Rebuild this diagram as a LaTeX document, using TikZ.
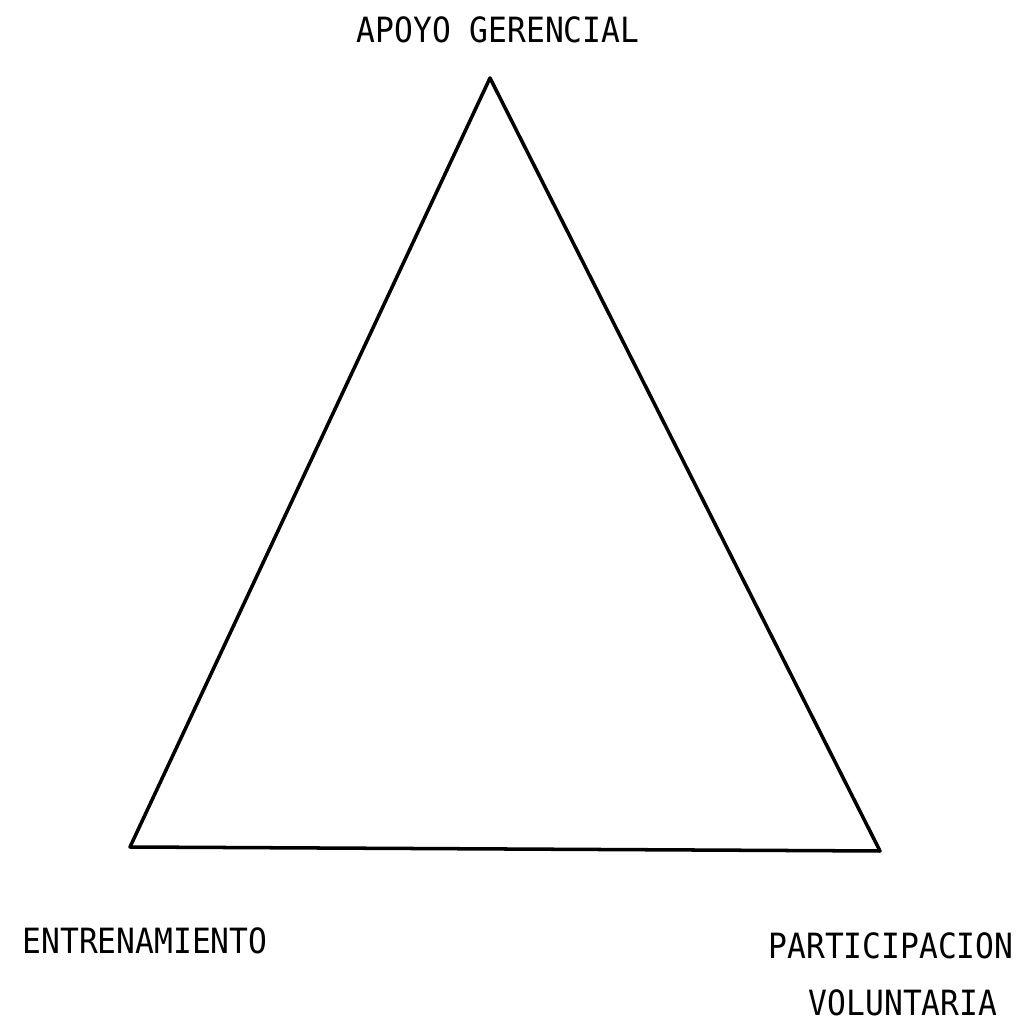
\documentclass[tikz,border=0pt]{standalone}
\usepackage{fontspec}
\setmainfont{DejaVu Sans Mono}[FakeStretch=0.9]
\usetikzlibrary{positioning}
\tikzset{
  edge/.style={line width=1pt, line join=round},
  lbl/.style={font=\fontsize{9.9}{11}\selectfont, inner sep=0pt, align=center}
}
\begin{document}
\begin{tikzpicture}
  \useasboundingbox (0,0) rectangle (10.27,10.34);
  % vertices
  \coordinate (top) at (4.90,9.56);
  \coordinate (bl) at (1.30,1.87);
  \coordinate (br) at (8.80,1.83);
  \draw[edge] (top) -- (br) -- (bl) -- cycle;
  % labels
  \node[lbl] (apoyo) at (4.98,10.04) {APOYO GERENCIAL};
  \node[lbl] (entr) at (1.45,0.93) {ENTRENAMIENTO};
  \node[lbl] (part) at (8.91,0.88) {PARTICIPACION};
  \node[lbl, below=0.29cm of part.south, anchor=north, xshift=0.12cm] (vol) {VOLUNTARIA};
\end{tikzpicture}
\end{document}
